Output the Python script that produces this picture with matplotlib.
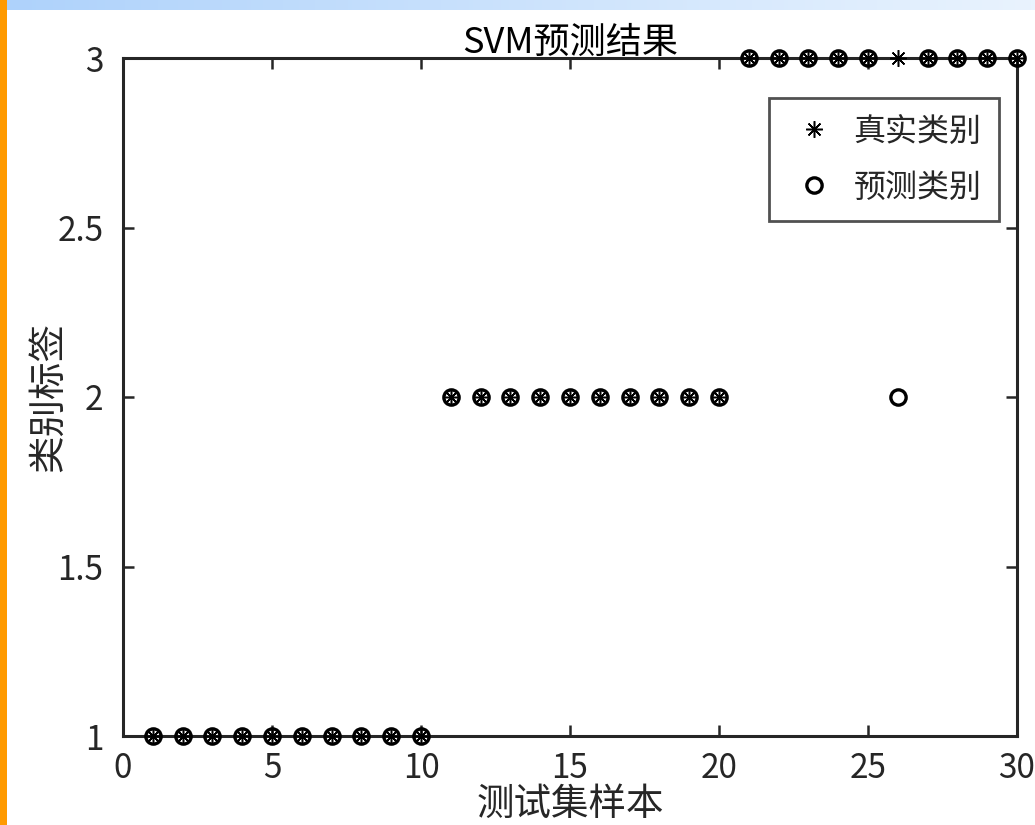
import numpy as np
import matplotlib
matplotlib.use("Agg")
import matplotlib.pyplot as plt
from matplotlib.patches import Rectangle

plt.rcParams['font.family'] = ['Noto Sans CJK SC', 'DejaVu Sans']
plt.rcParams['axes.unicode_minus'] = False

# 测试集样本的真实类别与SVM预测类别
sample_idx = list(range(1, 31))
true_label = [1] * 10 + [2] * 10 + [3] * 10
pred_label = [1] * 10 + [2] * 10 + [3, 3, 3, 3, 3, 2, 3, 3, 3, 3]

xticks = [0, 5, 10, 15, 20, 25, 30]
yticks = [1, 1.5, 2, 2.5, 3]
ytick_labels = ['1', '1.5', '2', '2.5', '3']

dark = '#262626'

fig = plt.figure(figsize=(10.35, 8.25), dpi=100)

# 页面边条
strip = fig.add_axes([0, 1 - 10 / 825, 1, 10 / 825])
grad = np.linspace(0, 1, 256).reshape(1, -1)
strip.imshow(grad, aspect='auto', cmap=matplotlib.colors.LinearSegmentedColormap.from_list(
    'bar', ['#aed2fb', '#e9f3fe']), extent=[0, 1, 0, 1])
strip.axis('off')
fig.patches.append(Rectangle((0, 0), 7 / 1035, 1, transform=fig.transFigure,
                             facecolor='#ff9a00', edgecolor='none', zorder=5))

ax = fig.add_axes([123 / 1035, 89 / 825, 894 / 1035, 678 / 825])
ax.plot(sample_idx, true_label, linestyle='none', marker=(8, 2, 0), markersize=12,
        markeredgewidth=1.1, color='black', label='真实类别', clip_on=False, zorder=3)
ax.plot(sample_idx, pred_label, linestyle='none', marker='o', markersize=11,
        markeredgewidth=2.4, markerfacecolor='none', markeredgecolor='black',
        label='预测类别', clip_on=False, zorder=4)

ax.set_xlim(0, 30)
ax.set_ylim(1, 3)
ax.set_xticks(xticks)
ax.set_yticks(yticks)
ax.set_yticklabels(ytick_labels)
ax.tick_params(direction='in', length=8, width=1.8, top=True, right=True,
               labelsize=24, colors=dark)
ax.tick_params(axis='x', pad=11)
ax.tick_params(axis='y', pad=14)
for s in ax.spines.values():
    s.set_linewidth(2.2)
    s.set_color(dark)

ax.set_title('SVM预测结果', fontsize=26, color='black', pad=4)
ax.set_xlabel('测试集样本', fontsize=27, color=dark, labelpad=-1)
ax.set_ylabel('类别标签', fontsize=27, color=dark, labelpad=-8)

leg = ax.legend(loc='upper right', bbox_to_anchor=((999 - 123) / 894, (736 - 98) / 678),
                fontsize=23, frameon=True, fancybox=False, borderpad=0.55,
                handletextpad=0.4, labelspacing=0.75, handlelength=1.7,
                borderaxespad=0)
leg.get_frame().set_edgecolor(dark)
leg.get_frame().set_linewidth(2.0)
for t in leg.get_texts():
    t.set_color(dark)

fig.savefig('out.png', dpi=100)
